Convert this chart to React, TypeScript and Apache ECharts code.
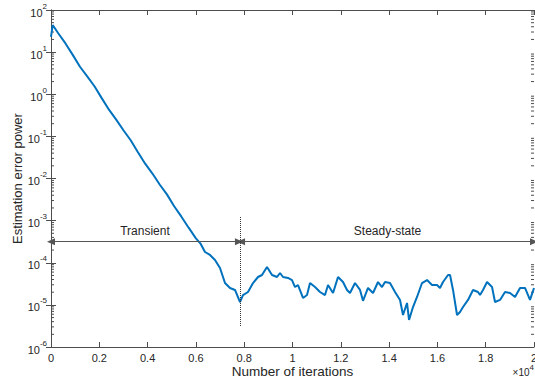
import React, { useEffect, useRef } from "react";
import * as echarts from "echarts";

// Iteration index (x) and estimation error power (y)
const iterations: number[] = [
  0, 70, 300, 600, 900, 1200, 1500, 1800, 2100, 2400, 2700, 3000, 3300, 3600,
  3900, 4200, 4500, 4800, 5100, 5400, 5700, 6000, 6200, 6377, 6584, 6791, 6998,
  7205, 7412, 7619, 7826, 7950, 8158, 8365, 8572, 8737, 8944, 9152, 9359, 9483,
  9607, 9814, 9980, 10104, 10228, 10435, 10601, 10725, 10932, 11139, 11346,
  11471, 11678, 11885, 12092, 12257, 12381, 12589, 12796, 12920, 13127, 13334,
  13541, 13707, 13831, 14038, 14245, 14452, 14576, 14742, 14825, 14990, 15156,
  15363, 15570, 15777, 15984, 16108, 16233, 16440, 16523, 16647, 16813, 16937,
  17061, 17268, 17475, 17682, 17765, 17889, 18055, 18262, 18386, 18593, 18800,
  19007, 19214, 19421, 19628, 19835, 20000,
];
const errorPower: number[] = [
  23, 44, 28, 16.1, 8.6, 4.5, 2.65, 1.55, 0.81, 0.43, 0.25, 0.14, 0.081,
  0.042, 0.0225, 0.0131, 0.0072, 0.0042, 0.0022, 0.00124, 0.00068, 0.00038,
  0.00028, 0.00018, 0.000153, 0.000116, 7.5e-5, 3.3e-5, 2.52e-5, 2.26e-5,
  1.17e-5, 1.71e-5, 2.02e-5, 3.3e-5, 4.59e-5, 5.12e-5, 7.9e-5, 5.12e-5, 4.59e-5,
  5.71e-5, 4.59e-5, 4.35e-5, 3.89e-5, 2.65e-5, 2.96e-5, 1.46e-5, 1.71e-5,
  3.3e-5, 2.65e-5, 2.02e-5, 1.71e-5, 2.96e-5, 1.91e-5, 4.59e-5, 3.49e-5,
  2.26e-5, 1.91e-5, 3.3e-5, 2.26e-5, 1.25e-5, 2.52e-5, 1.91e-5, 3.49e-5,
  2.65e-5, 3.49e-5, 3.3e-5, 2.02e-5, 1.31e-5, 5.75e-6, 1.11e-5, 4.38e-6, 8.9e-6,
  1.54e-5, 3.3e-5, 3.89e-5, 2.96e-5, 2.96e-5, 2.52e-5, 3.49e-5, 5.12e-5,
  5.12e-5, 2.26e-5, 5.75e-6, 6.8e-6, 8.9e-6, 1.31e-5, 2.26e-5, 2.02e-5, 1.71e-5,
  2.26e-5, 3.49e-5, 2.65e-5, 1.17e-5, 1.31e-5, 2.02e-5, 1.91e-5, 1.54e-5,
  2.52e-5, 2.52e-5, 1.31e-5, 2.52e-5,
];

// Annotation values
const annotationLevel = 3.16e-4;
const transientEnd = 7826;
const dottedTop = 1.22e-3;
const dottedBottom = 3e-6;
const annotationLabels = ["Transient", "Steady-state"];

const minorMultipliers = [2, 3, 4, 5, 6, 7, 8, 9];
const decades = [-6, -5, -4, -3, -2, -1, 0, 1];

const X_MIN = 0;
const X_MAX = 20000;

export default function App() {
  const ref = useRef<HTMLDivElement>(null);
  useEffect(() => {
    if (!ref.current) return;
    const chart = echarts.init(ref.current, undefined, { renderer: "svg" });
    const axisColor = "#4d4d4d";
    const textColor = "#262626";
    const font = "Liberation Sans";

    const minorTicks: number[][] = [];
    decades.forEach((e) =>
      minorMultipliers.forEach((m) => minorTicks.push([X_MIN, m * Math.pow(10, e)]))
    );

    const lineData = iterations.map((x, i) => [x, errorPower[i]]);

    const yLabel = {
      show: true,
      fontFamily: font,
      margin: 4,
      formatter: (v: number) => {
        const e = Math.round(Math.log10(v));
        return `{b|10}{e|${e}}`;
      },
      rich: {
        b: { fontSize: 11, color: textColor, fontFamily: font, verticalAlign: "bottom", lineHeight: 16 },
        e: { fontSize: 8, color: textColor, fontFamily: font, verticalAlign: "top", lineHeight: 16 },
      },
    };

    const option: any = {
      animation: false,
      grid: { left: 51, right: 1, top: 10, bottom: 32, containLabel: false, outerBoundsMode: "none" },
      xAxis: [
        {
          type: "value",
          min: X_MIN,
          max: X_MAX,
          interval: 2000,
          name: "Number of iterations",
          nameLocation: "middle",
          nameGap: 17,
          nameMoveOverlap: false,
          nameTextStyle: { fontFamily: font, fontSize: 13.5, color: textColor },
          axisLine: { show: true, lineStyle: { color: axisColor, width: 1 } },
          axisTick: { show: true, inside: true, length: 5, lineStyle: { color: axisColor } },
          axisLabel: {
            fontFamily: font,
            fontSize: 11,
            color: textColor,
            margin: 5,
            formatter: (v: number) => String(+(v / 10000).toFixed(1)),
          },
          splitLine: { show: false },
        },
        {
          type: "value",
          position: "top",
          min: X_MIN,
          max: X_MAX,
          interval: 2000,
          axisLine: { show: true, lineStyle: { color: axisColor, width: 1 } },
          axisTick: { show: true, inside: true, length: 5, lineStyle: { color: axisColor } },
          axisLabel: { show: false },
          splitLine: { show: false },
        },
      ],
      yAxis: [
        {
          type: "log",
          logBase: 10,
          min: 1e-6,
          max: 100,
          interval: 1,
          name: "Estimation error power",
          nameLocation: "middle",
          nameGap: 27,
          nameMoveOverlap: false,
          nameTextStyle: { fontFamily: font, fontSize: 13, color: textColor },
          axisLine: { show: true, lineStyle: { color: axisColor, width: 1 } },
          axisTick: { show: true, inside: true, length: 5, lineStyle: { color: axisColor } },
          axisLabel: yLabel,
          splitLine: { show: false },
        },
        {
          type: "log",
          logBase: 10,
          position: "right",
          min: 1e-6,
          max: 100,
          interval: 1,
          axisLine: { show: true, lineStyle: { color: axisColor, width: 1 } },
          axisTick: { show: true, inside: true, length: 5, lineStyle: { color: axisColor } },
          axisLabel: { show: false },
          splitLine: { show: false },
        },
      ],
      series: [
        {
          type: "custom",
          xAxisIndex: 0,
          yAxisIndex: 0,
          silent: true,
          clip: false,
          data: minorTicks,
          renderItem: (params: any, api: any) => {
            const v = api.value(1);
            const l = api.coord([X_MIN, v]);
            const r = api.coord([X_MAX, v]);
            return {
              type: "group",
              children: [
                { type: "line", shape: { x1: l[0], y1: l[1], x2: l[0] + 3, y2: l[1] }, style: { stroke: axisColor, lineWidth: 1 } },
                { type: "line", shape: { x1: r[0], y1: r[1], x2: r[0] - 3, y2: r[1] }, style: { stroke: axisColor, lineWidth: 1 } },
              ],
            };
          },
        },
        {
          type: "line",
          xAxisIndex: 0,
          yAxisIndex: 0,
          data: lineData,
          showSymbol: false,
          symbol: "none",
          lineStyle: { color: "#0072BD", width: 2 },
          markLine: {
            silent: true,
            symbol: ["triangle", "triangle"],
            symbolSize: [7, 8],
            lineStyle: { color: "#555555", width: 1, type: "solid" },
            label: {
              show: true,
              position: "middle",
              formatter: "{b}",
              fontFamily: font,
              fontSize: 12,
              color: textColor,
              distance: 5,
            },
            emphasis: { disabled: true },
            data: [
              [
                { name: annotationLabels[0], coord: [X_MIN, annotationLevel] },
                { coord: [transientEnd - 45, annotationLevel] },
              ],
              [
                { name: annotationLabels[1], coord: [transientEnd + 45, annotationLevel] },
                { coord: [X_MAX, annotationLevel] },
              ],
              [
                { name: "", coord: [transientEnd, dottedTop], symbol: "none", lineStyle: { type: "dotted", color: "#333333", width: 1 }, label: { show: false } },
                { coord: [transientEnd, dottedBottom], symbol: "none" },
              ],
            ],
          },
        },
      ],
      graphic: [
        {
          type: "text",
          right: 1,
          bottom: 2,
          style: {
            text: "{a|×10}{e|4}",
            rich: {
              a: { fontSize: 10, fontFamily: font, fill: textColor, verticalAlign: "bottom", lineHeight: 14 },
              e: { fontSize: 8, fontFamily: font, fill: textColor, verticalAlign: "top", lineHeight: 14 },
            },
          },
        },
      ],
    };
    chart.setOption(option);
    return () => chart.dispose();
  }, []);
  return (
    <div
      ref={ref}
      style={{ position: "fixed", left: 0, top: 0, width: 535, height: 379, background: "#fff" }}
    />
  );
}
